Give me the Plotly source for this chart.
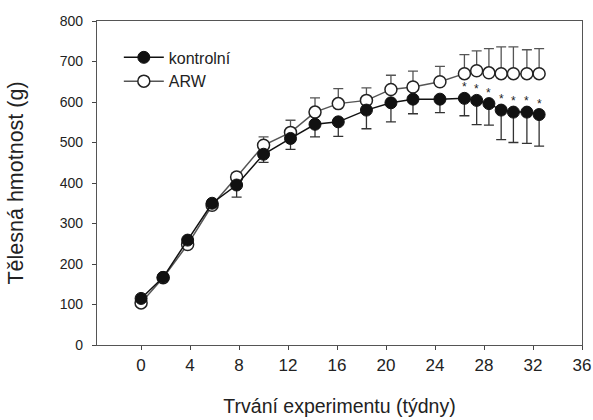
import plotly.graph_objects as go

weeks = [0, 1.8, 3.8, 5.8, 7.8, 10, 12.2, 14.2, 16.1, 18.4, 20.4, 22.2, 24.4,
         26.4, 27.4, 28.4, 29.4, 30.4, 31.5, 32.5]

kontrolni = [115, 167, 259, 350, 395, 471, 510, 545, 551, 580, 598, 607, 607,
             609, 604, 596, 580, 575, 575, 569]
kontrolni_sd = [6, 6, 7, 8, 30, 20, 27, 31, 36, 46, 47, 36, 33,
                43, 60, 53, 73, 75, 77, 78]
significant = [False] * 13 + [True] * 7

arw = [104, 166, 248, 345, 415, 493, 525, 575, 596, 604, 631, 637, 650,
       670, 677, 672, 670, 670, 670, 670]
arw_sd = [6, 6, 7, 8, 10, 21, 30, 35, 37, 31, 35, 39, 38,
          47, 49, 60, 66, 66, 59, 62]

zeros = [0] * len(weeks)
FONT = "Liberation Sans, Arial, sans-serif"

fig = go.Figure()

fig.add_trace(go.Scatter(
    x=weeks, y=arw, name="ARW", mode="lines+markers",
    line=dict(color="#555555", width=1.5),
    marker=dict(symbol="circle", size=12, color="white",
                line=dict(color="#222222", width=1.5)),
    error_y=dict(type="data", symmetric=False, array=arw_sd, arrayminus=zeros,
                 color="#555555", thickness=1.3, width=5),
))

fig.add_trace(go.Scatter(
    x=weeks, y=kontrolni, name="kontrolní", mode="lines+markers",
    line=dict(color="#111111", width=1.5),
    marker=dict(symbol="circle", size=12, color="#111111",
                line=dict(color="#111111", width=1)),
    error_y=dict(type="data", symmetric=False, array=zeros, arrayminus=kontrolni_sd,
                 color="#333333", thickness=1.3, width=5),
))

for wk, val, sig in zip(weeks, kontrolni, significant):
    if sig:
        fig.add_annotation(x=wk, y=val, text="*", showarrow=False, yshift=11,
                           font=dict(family=FONT, size=12, color="#222222"))

fig.update_layout(
    width=593, height=420,
    margin=dict(l=97, r=11, t=21, b=75),
    paper_bgcolor="white", plot_bgcolor="white",
    font=dict(family=FONT, size=14, color="#222222"),
    showlegend=True,
    legend=dict(x=0.045, y=0.94, xanchor="left", yanchor="top",
                traceorder="reversed", bgcolor="rgba(0,0,0,0)",
                font=dict(size=16), itemwidth=40, tracegroupgap=0),
    xaxis=dict(
        range=[-3.6, 36], tick0=0, dtick=4, ticks="outside", ticklen=4,
        tickcolor="#444444", showline=True, mirror=True, linecolor="#555555",
        linewidth=1.3, showgrid=False, zeroline=False, automargin=False,
        title=dict(text="Trvání experimentu (týdny)", font=dict(size=19.5), standoff=25),
        tickfont=dict(size=17),
    ),
    yaxis=dict(
        range=[0, 800], tick0=0, dtick=100, ticks="outside", ticklen=4,
        tickcolor="#444444", showline=True, mirror=True, linecolor="#555555",
        linewidth=1.3, showgrid=False, zeroline=False, ticklabelstandoff=6,
        automargin=False,
        title=dict(text="Tělesná hmotnost (g)", font=dict(size=21.5), standoff=30),
        tickfont=dict(size=14),
    ),
)

fig.write_html("out.html", post_script="document.body.style.margin='0px';",
               config={"displayModeBar": False})
